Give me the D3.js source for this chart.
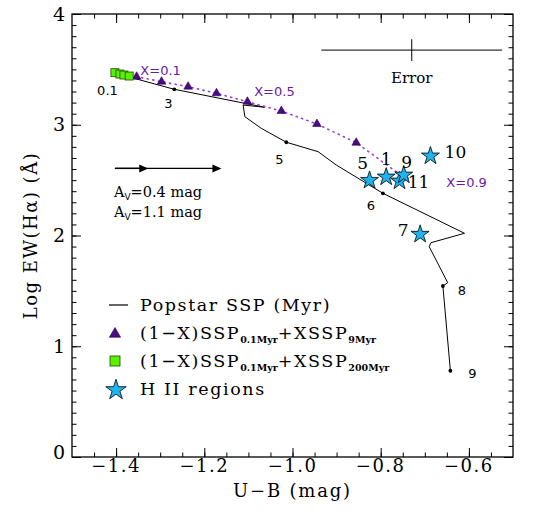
<!DOCTYPE html>
<html>
<head>
<meta charset="utf-8">
<script src="https://cdn.jsdelivr.net/npm/d3@7"></script>
<style>
  body { margin: 0; background: #fff; }
  text { fill: #000; }
</style>
</head>
<body>
<div id="chart"></div>
<script>
// Popstar SSP track (U-B, log EW(Ha))
var sspX = [-1.406, -1.268, -1.063, -1.112, -1.108, -1.071, -1.014, -0.942, -0.901, -0.795, -0.610, -0.686, -0.690, -0.648, -0.659, -0.642];
var sspY = [3.470, 3.320, 3.158, 3.178, 3.073, 2.968, 2.842, 2.757, 2.637, 2.381, 2.020, 1.935, 1.899, 1.574, 1.544, 0.779];
// age marks on the track (index into the track, label)
var ageIdx = [0, 1, 6, 9, 14, 15];
var ageLabels = ["0.1", "3", "5", "6", "8", "9"];

// (1-X) SSP 0.1Myr + X SSP 9Myr
var mixX = [-1.406, -1.3535, -1.297, -1.2367, -1.1724, -1.1022, -1.0252, -0.9446, -0.8555, -0.764];
var mixY = [3.470, 3.434, 3.389, 3.344, 3.284, 3.208, 3.124, 3.007, 2.838, 2.573];
var mixFrac = [0, 0.1, 0.2, 0.3, 0.4, 0.5, 0.6, 0.7, 0.8, 0.9];

// (1-X) SSP 0.1Myr + X SSP 200Myr
var oldX = [-1.4027, -1.3913, -1.3823, -1.3703];
var oldY = [3.470, 3.458, 3.449, 3.440];

// H II regions
var hiiNames = ["5", "1", "11", "9", "10", "7"];
var hiiX = [-0.8253, -0.7875, -0.7574, -0.7477, -0.6872, -0.7106];
var hiiY = [2.507, 2.537, 2.501, 2.555, 2.727, 2.020];

// extinction vectors
var avValues = [0.4, 1.1];
var avShift = [0.0756, 0.2416];

var width = 535, height = 527;
var margin = { top: 14, right: 22, bottom: 70, left: 72 };
var plotW = width - margin.left - margin.right;
var plotH = height - margin.top - margin.bottom;

var svg = d3.select("#chart").append("svg")
    .attr("width", width)
    .attr("height", height);

var x = d3.scaleLinear().domain([-1.5, -0.5]).range([margin.left, margin.left + plotW]);
var y = d3.scaleLinear().domain([0, 4]).range([margin.top + plotH, margin.top]);

var serif = "'DejaVu Serif', serif";
var sans = "'DejaVu Sans', sans-serif";

// frame + ticks on all four sides (inward)
var xMajor = d3.range(-1.4, -0.55, 0.2);
var xMinor = d3.range(-1.45, -0.5, 0.05);
var yMajor = [0, 1, 2, 3, 4];
var yMinor = d3.range(0.1, 4, 0.1);

function tickAxis(axisFn, scale, vals, len, pos) {
  svg.append("g")
    .attr("transform", pos)
    .call(axisFn(scale).tickValues(vals).tickSize(len).tickFormat(""))
    .call(g => g.select(".domain").remove())
    .selectAll("line").attr("stroke", "#000").attr("stroke-width", 1);
}
var bx = `translate(0,${margin.top + plotH})`, tx = `translate(0,${margin.top})`;
var ly = `translate(${margin.left},0)`, ry = `translate(${margin.left + plotW},0)`;
tickAxis(d3.axisTop, x, xMajor, 9, bx);
tickAxis(d3.axisTop, x, xMinor, 4.5, bx);
tickAxis(d3.axisBottom, x, xMajor, 9, tx);
tickAxis(d3.axisBottom, x, xMinor, 4.5, tx);
tickAxis(d3.axisRight, y, yMajor, 9, ly);
tickAxis(d3.axisRight, y, yMinor, 4.5, ly);
tickAxis(d3.axisLeft, y, yMajor, 9, ry);
tickAxis(d3.axisLeft, y, yMinor, 4.5, ry);

svg.append("rect")
    .attr("x", margin.left).attr("y", margin.top)
    .attr("width", plotW).attr("height", plotH)
    .attr("fill", "none").attr("stroke", "#000").attr("stroke-width", 1.3);

// tick labels
svg.selectAll(".xl").data(xMajor).enter().append("text")
    .attr("x", d => x(d)).attr("y", margin.top + plotH + 15)
    .attr("text-anchor", "middle")
    .style("font", "18px " + serif).style("letter-spacing", "1.5px")
    .text(d => "\u2212" + Math.abs(d).toFixed(1));
svg.selectAll(".yl").data(yMajor).enter().append("text")
    .attr("x", margin.left - 7).attr("y", d => y(d) - (d === 0 ? 5 : 0))
    .attr("dy", "0.35em")
    .attr("text-anchor", "end")
    .style("font", "19px " + serif)
    .text(d => d);

// axis titles
svg.append("text")
    .attr("x", x(-1.0)).attr("y", 497)
    .attr("text-anchor", "middle")
    .style("font", "18px " + serif).style("letter-spacing", "1.8px")
    .text("U\u2212B (mag)");
svg.append("text")
    .attr("transform", `translate(37,${y(2.0)}) rotate(-90)`)
    .attr("text-anchor", "middle")
    .style("font", "18px " + serif).style("letter-spacing", "1.5px")
    .text("Log EW(H\u03b1) (\u00c5)");

// Popstar track
var line = d3.line().x(d => x(d[0])).y(d => y(d[1]));
var ssp = sspX.map((v, i) => [v, sspY[i]]);
svg.append("path").datum(ssp)
    .attr("d", line).attr("fill", "none")
    .attr("stroke", "#000").attr("stroke-width", 1);

var ageOff = [[-6, 18], [-6, 14], [-7, 17], [-12, 12], [19, 4], [22, 3]];
ageIdx.forEach(function(k, i) {
  svg.append("circle").attr("cx", x(sspX[k])).attr("cy", y(sspY[k])).attr("r", 1.9).attr("fill", "#000");
  svg.append("text")
    .attr("x", x(sspX[k]) + ageOff[i][0]).attr("y", y(sspY[k]) + ageOff[i][1])
    .attr("dy", "0.35em").attr("text-anchor", "middle")
    .style("font", "13px " + sans)
    .text(ageLabels[i]);
});

// mixture track (dotted)
var mix = mixX.map((v, i) => [v, mixY[i]]);
svg.append("path").datum(mix)
    .attr("d", line).attr("fill", "none")
    .attr("stroke", "#9b3fd6").attr("stroke-width", 1.6)
    .attr("stroke-dasharray", "1.2,4.5").attr("stroke-linecap", "round");

var tri = d3.symbol().type(d3.symbolTriangle).size(32);
svg.selectAll(".tri").data(mix.slice(1, 9)).enter().append("path")
    .attr("d", tri)
    .attr("transform", d => `translate(${x(d[0])},${y(d[1])})`)
    .attr("fill", "#4b0a86").attr("stroke", "#2a0050").attr("stroke-width", 0.6);

// X labels
var xLab = [[1, 24, -6], [5, 27, -10], [9, 70, 10]];
xLab.forEach(function(a) {
  svg.append("text")
    .attr("x", x(mixX[a[0]]) + a[1]).attr("y", y(mixY[a[0]]) + a[2])
    .attr("dy", "0.35em").attr("text-anchor", "middle")
    .style("fill", "#6a1aa8")
    .style("font", "13px " + sans)
    .text("X=" + mixFrac[a[0]].toFixed(1));
});

// 200 Myr mixture squares
svg.selectAll(".sq").data(oldX.map((v, i) => [v, oldY[i]])).enter().append("rect")
    .attr("x", d => x(d[0]) - 4).attr("y", d => y(d[1]) - 4)
    .attr("width", 8).attr("height", 8)
    .attr("fill", "#5cf000").attr("stroke", "#1a4a00").attr("stroke-width", 0.8);

// H II regions
var star = d3.symbol().type(d3.symbolStar).size(100);
var hii = hiiX.map((v, i) => [v, hiiY[i], hiiNames[i]]);
svg.selectAll(".st").data(hii).enter().append("path")
    .attr("d", star)
    .attr("transform", d => `translate(${x(d[0])},${y(d[1]) + 1})`)
    .attr("fill", "#1db4f0").attr("stroke", "#000").attr("stroke-width", 0.8);

var hiiOff = { "5": [-7, -16], "1": [0, -17], "9": [3, -12], "11": [19, 2], "10": [25, -3], "7": [-17, -3] };
svg.selectAll(".sl").data(hii).enter().append("text")
    .attr("x", d => x(d[0]) + hiiOff[d[2]][0]).attr("y", d => y(d[1]) + hiiOff[d[2]][1])
    .attr("dy", "0.35em").attr("text-anchor", "middle")
    .style("font", "17px " + serif)
    .text(d => d[2]);

// error bar
var errX = -0.7296, errY = 3.674, errDx = 0.205, errDy = 0.098;
svg.append("line").attr("x1", x(errX - errDx)).attr("x2", x(errX + errDx))
    .attr("y1", y(errY)).attr("y2", y(errY)).attr("stroke", "#000").attr("stroke-width", 1);
svg.append("line").attr("x1", x(errX)).attr("x2", x(errX))
    .attr("y1", y(errY + errDy)).attr("y2", y(errY - errDy)).attr("stroke", "#000").attr("stroke-width", 1);
svg.append("text").attr("x", x(errX)).attr("y", y(errY) + 33)
    .attr("text-anchor", "middle").style("font", "15px " + serif).text("Error");

// extinction arrows
var avX0 = -1.4027, avY0 = 2.606;
avShift.slice().reverse().forEach(function(s) {
  var xe = x(avX0 + s), yy = y(avY0);
  svg.append("line").attr("x1", x(avX0)).attr("x2", xe - 6)
      .attr("y1", yy).attr("y2", yy).attr("stroke", "#000").attr("stroke-width", 1.4);
  svg.append("path").attr("d", `M${xe},${yy} L${xe - 9},${yy - 4} L${xe - 9},${yy + 4} Z`).attr("fill", "#000");
});
avValues.forEach(function(v, i) {
  var t = svg.append("text").attr("x", x(avX0) - 1).attr("y", y(avY0) + 29 + i * 20)
      .style("font", "14.5px " + serif);
  t.append("tspan").text("A");
  t.append("tspan").attr("dy", 3).style("font", "9px " + sans).text("V");
  t.append("tspan").attr("dy", -3).text("=" + v.toFixed(1) + "  mag");
});

// legend
var lgX = 140, lgY = [305, 333, 361, 389];
svg.append("line").attr("x1", 109).attr("x2", 128).attr("y1", lgY[0]).attr("y2", lgY[0])
    .attr("stroke", "#000").attr("stroke-width", 1.2);
svg.append("path").attr("d", d3.symbol().type(d3.symbolTriangle).size(55))
    .attr("transform", `translate(115,${lgY[1] + 1})`)
    .attr("fill", "#4b0a86").attr("stroke", "#2a0050").attr("stroke-width", 0.6);
svg.append("rect").attr("x", 110).attr("y", lgY[2] - 5).attr("width", 10).attr("height", 10)
    .attr("fill", "#5cf000").attr("stroke", "#1a4a00").attr("stroke-width", 0.8);
svg.append("path").attr("d", d3.symbol().type(d3.symbolStar).size(130))
    .attr("transform", `translate(116,${lgY[3] + 1})`)
    .attr("fill", "#1db4f0").attr("stroke", "#000").attr("stroke-width", 0.8);

function legendText(yy, parts) {
  var t = svg.append("text").attr("x", lgX).attr("y", yy + 6)
      .style("font", "17.5px " + serif).style("letter-spacing", "1.6px");
  parts.forEach(function(p) {
    var s = t.append("tspan").text(p[0]);
    if (p[1]) s.attr("dy", p[1]);
    if (p[2]) s.style("font", "bold 9.5px " + serif).style("letter-spacing", "0px");
  });
}
legendText(lgY[0], [["Popstar SSP (Myr)"]]);
legendText(lgY[1], [["(1\u2212X)SSP"], ["0.1Myr", 4, true], ["+XSSP", -4], ["9Myr", 4, true]]);
legendText(lgY[2], [["(1\u2212X)SSP"], ["0.1Myr", 4, true], ["+XSSP", -4], ["200Myr", 4, true]]);
legendText(lgY[3], [["H II regions"]]);
</script>
</body>
</html>
